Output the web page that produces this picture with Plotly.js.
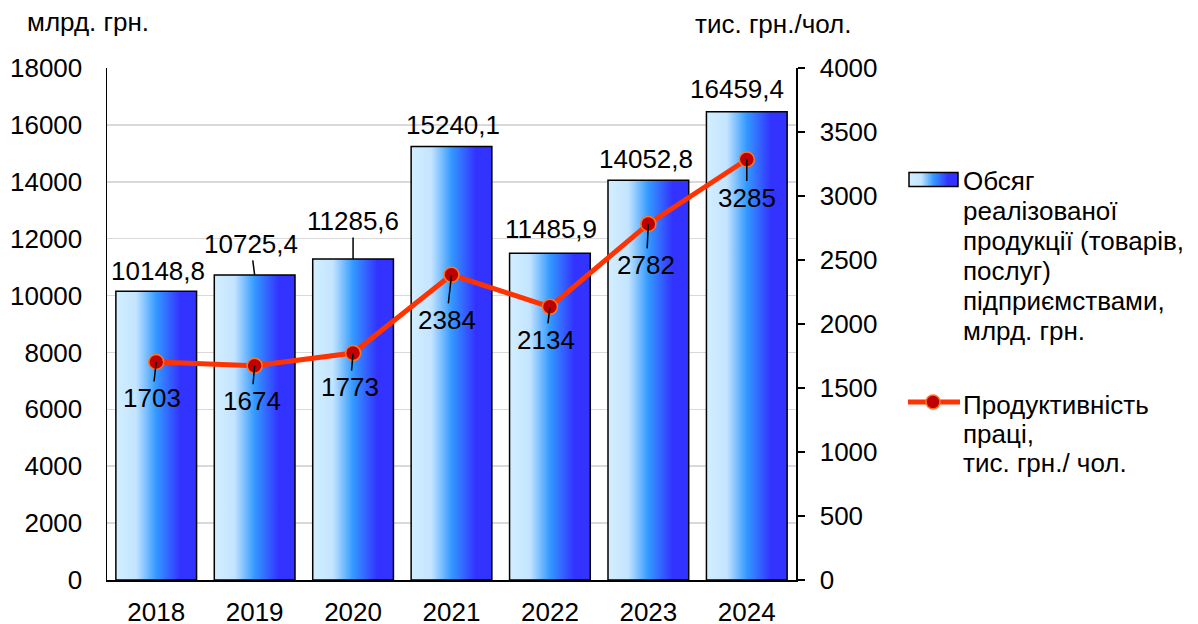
<!DOCTYPE html>
<html>
<head>
<meta charset="utf-8">
<script src="https://cdn.plot.ly/plotly-3.0.1.min.js"></script>
<style>html,body{margin:0;padding:0;background:#fff;}#chart{width:1198px;height:624px;}</style>
</head>
<body>
<div id="chart"></div>
<script>
// ---- data ----
const years = ['2018', '2019', '2020', '2021', '2022', '2023', '2024'];
const salesVolume = [10148.8, 10725.4, 11285.6, 15240.1, 11485.9, 14052.8, 16459.4];
const productivity = [1703, 1674, 1773, 2384, 2134, 2782, 3285];
const leftTicks = [0, 2000, 4000, 6000, 8000, 10000, 12000, 14000, 16000, 18000];
const rightTicks = [0, 500, 1000, 1500, 2000, 2500, 3000, 3500, 4000];
const leftTitle = 'млрд. грн.';
const rightTitle = 'тис. грн./чол.';
const barLegendLines = ['Обсяг', 'реалізованої', 'продукції (товарів,', 'послуг)', 'підприємствами,', 'млрд. грн.'];
const lineLegendLines = ['Продуктивність', 'праці,', 'тис. грн./ чол.'];

// ---- layout / label placement (pixels) ----
const barLabelDx = [2, -4, 0, 1, 1, -2, -10];
const barLabelDy = [-20, -31, -38, -22, -24, -21, -23];
const barLeader = [false, true, true, false, false, false, false];
const lineLabelDx = [-4, -3, -3, -5, -4, -2, 0];
const lineLabelDy = [36, 35, 34, 45, 33, 41, 38];

const M = {l: 107, r: 402, t: 68, b: 44};
const W = 1198, H = 624;
const PW = W - M.l - M.r, PH = H - M.t - M.b;
const px2x = p => (p - M.l) / PW;
const py2y = p => (H - M.b - p) / PH;

const FONT = 'Liberation Sans, Arial, sans-serif';
const FS = 26;
const fmt = v => v.toFixed(1).replace('.', ',');

const traces = [
  {
    type: 'bar', x: years, y: salesVolume, yaxis: 'y',
    marker: {color: '#3399FF', line: {color: '#000', width: 1.5}},
    hoverinfo: 'none', cliponaxis: false
  },
  {
    type: 'scatter', mode: 'lines+markers', x: years, y: productivity, yaxis: 'y2',
    line: {color: '#FF3300', width: 5},
    marker: {size: 15, color: '#C00000', line: {color: '#FF7722', width: 1.5}},
    hoverinfo: 'none', cliponaxis: false
  }
];

const annotations = [];
years.forEach((yr, i) => {
  annotations.push({
    x: i, y: salesVolume[i], xref: 'x', yref: 'y',
    text: fmt(salesVolume[i]), showarrow: true, arrowhead: 0, arrowwidth: 1.5,
    arrowcolor: barLeader[i] ? '#000' : 'rgba(0,0,0,0)',
    ax: barLabelDx[i], ay: barLabelDy[i], standoff: 0,
    font: {family: FONT, size: FS, color: '#000'}
  });
  annotations.push({
    x: i, y: productivity[i], xref: 'x', yref: 'y2',
    text: String(productivity[i]), showarrow: true, arrowhead: 0, arrowwidth: 1.5,
    arrowcolor: '#000', ax: lineLabelDx[i], ay: lineLabelDy[i], standoff: 0,
    font: {family: FONT, size: FS, color: '#000'}
  });
});
annotations.push({
  xref: 'paper', yref: 'paper', x: px2x(25), y: py2y(22), xanchor: 'left', yanchor: 'middle',
  text: leftTitle, showarrow: false, font: {family: FONT, size: FS, color: '#000'}
});
annotations.push({
  xref: 'paper', yref: 'paper', x: px2x(693), y: py2y(24), xanchor: 'left', yanchor: 'middle',
  text: rightTitle, showarrow: false, font: {family: FONT, size: FS, color: '#000'}
});
barLegendLines.forEach((t, i) => annotations.push({
  xref: 'paper', yref: 'paper', x: px2x(961), y: py2y(181 + i * 30), xanchor: 'left', yanchor: 'middle',
  text: t, showarrow: false, font: {family: FONT, size: FS, color: '#000'}
}));
lineLegendLines.forEach((t, i) => annotations.push({
  xref: 'paper', yref: 'paper', x: px2x(961), y: py2y(405 + i * 29), xanchor: 'left', yanchor: 'middle',
  text: t, showarrow: false, font: {family: FONT, size: FS, color: '#000'}
}));

const shapes = [
  {type: 'rect', xref: 'paper', yref: 'paper', x0: px2x(909), x1: px2x(958), y0: py2y(186.5), y1: py2y(172.5),
   fillcolor: '#3399FF', line: {color: '#000', width: 1.5}},
  {type: 'line', xref: 'paper', yref: 'paper', x0: px2x(908), x1: px2x(960), y0: py2y(402), y1: py2y(402),
   line: {color: '#FF3300', width: 5}},
  {type: 'circle', xref: 'paper', yref: 'paper', x0: px2x(926), x1: px2x(940), y0: py2y(409), y1: py2y(395),
   fillcolor: '#C00000', line: {color: '#FF7722', width: 1.5}}
];

const layout = {
  width: W, height: H, margin: M,
  paper_bgcolor: '#fff', plot_bgcolor: '#fff',
  showlegend: false, bargap: 0.18,
  font: {family: FONT, size: FS, color: '#000'},
  xaxis: {
    type: 'category', categoryorder: 'array', categoryarray: years,
    range: [-0.5, years.length - 0.5], autorange: false,
    showline: true, linecolor: '#000', linewidth: 1.5, ticks: '',
    tickfont: {family: FONT, size: FS, color: '#000'}, ticklabelstandoff: 8, fixedrange: true
  },
  yaxis: {
    range: [0, 18000], autorange: false, tickvals: leftTicks, ticktext: leftTicks.map(String),
    showline: true, linecolor: '#000', linewidth: 1.5, ticks: '', showgrid: true,
    gridcolor: '#D9D9D9', gridwidth: 1.5, zeroline: false,
    tickfont: {family: FONT, size: FS, color: '#000'}, ticklabelstandoff: 18, fixedrange: true
  },
  yaxis2: {
    range: [0, 4000], autorange: false, tickvals: rightTicks, ticktext: rightTicks.map(String),
    overlaying: 'y', side: 'right', showline: true, linecolor: '#000', linewidth: 1.5,
    ticks: 'outside', ticklen: 7, tickwidth: 1.5, tickcolor: '#000', showgrid: false, zeroline: false,
    tickfont: {family: FONT, size: FS, color: '#000'}, ticklabelstandoff: 10, fixedrange: true
  },
  annotations: annotations,
  shapes: shapes
};

Plotly.newPlot('chart', traces, layout, {staticPlot: true, displayModeBar: false}).then(gd => {
  const svg = gd.querySelector('.main-svg');
  const ns = 'http://www.w3.org/2000/svg';
  let defs = svg.querySelector('defs');
  if (!defs) { defs = document.createElementNS(ns, 'defs'); svg.insertBefore(defs, svg.firstChild); }
  const grad = document.createElementNS(ns, 'linearGradient');
  grad.setAttribute('id', 'barGrad');
  grad.setAttribute('x1', '0'); grad.setAttribute('y1', '0');
  grad.setAttribute('x2', '1'); grad.setAttribute('y2', '0');
  [[0, '#D2EFFF'], [0.25, '#C4E4FF'], [0.5, '#3399FF'], [0.8, '#3333FF'], [1, '#3333FF']].forEach(([o, c]) => {
    const s = document.createElementNS(ns, 'stop');
    s.setAttribute('offset', o); s.setAttribute('stop-color', c);
    grad.appendChild(s);
  });
  defs.appendChild(grad);
  gd.querySelectorAll('.barlayer .point path').forEach(p => { p.style.fill = 'url(#barGrad)'; });
  const sh = gd.querySelectorAll('.shapelayer path');
  if (sh.length) sh[0].style.fill = 'url(#barGrad)';
});
</script>
</body>
</html>
